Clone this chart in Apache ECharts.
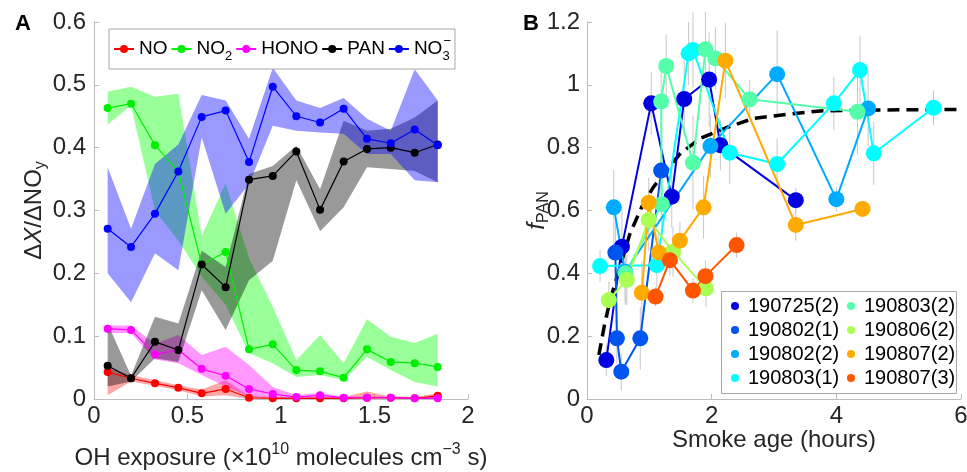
<!DOCTYPE html>
<html><head><meta charset="utf-8">
<script src="https://cdn.jsdelivr.net/npm/echarts/dist/echarts.min.js"></script>
<style>html,body{margin:0;padding:0;background:#fff}#c{width:967px;height:472px}</style>
</head><body><div id="c"></div>
<script>
// ---------- Panel A data ----------
const ohExposure = [0.073,0.198,0.326,0.451,0.576,0.704,0.829,0.956,1.082,1.209,1.335,1.460,1.587,1.715,1.838];
const noMean  = [0.043,0.033,0.025,0.018,0.009,0.016,0.002,0.001,0.001,0.001,0.001,0.002,0.002,0.001,0.005];
const noLow   = [0.006,0.028,0.021,0.014,0.004,0.006,0,0,0,0,0,0,0,0,0.001];
const noHigh  = [0.049,0.038,0.030,0.022,0.015,0.030,0.005,0.003,0.003,0.004,0.003,0.012,0.004,0.003,0.009];
const no2Mean = [0.463,0.470,0.404,0.362,0.214,0.234,0.079,0.087,0.046,0.044,0.034,0.079,0.059,0.057,0.051];
const no2Low  = [0.437,0.467,0.300,0.252,0.195,0.150,0.073,0.057,0.035,0.038,0.030,0.067,0.046,0.027,0.020];
const no2High = [0.489,0.497,0.481,0.486,0.260,0.343,0.224,0.147,0.062,0.102,0.057,0.127,0.099,0.089,0.104];
const honoMean= [0.112,0.110,0.071,0.078,0.048,0.037,0.016,0.008,0.003,0.006,0.002,0.002,0.002,0.001,0.001];
const honoLow = [0.105,0.105,0.063,0.057,0.038,0.020,0.004,0.002,0.001,0.001,0.001,0.001,0.001,0,0];
const honoHigh= [0.117,0.117,0.088,0.102,0.070,0.083,0.054,0.019,0.006,0.010,0.004,0.004,0.004,0.003,0.003];
const panMean = [0.053,0.033,0.091,0.078,0.214,0.178,0.349,0.355,0.394,0.301,0.378,0.398,0.400,0.392,0.405];
const panLow  = [0.020,0.028,0.065,0.059,0.173,0.110,0.189,0.220,0.348,0.267,0.305,0.369,0.366,0.363,0.345];
const panHigh = [0.120,0.037,0.131,0.120,0.236,0.210,0.358,0.371,0.403,0.334,0.443,0.427,0.430,0.448,0.475];
const no3Mean = [0.271,0.242,0.295,0.362,0.449,0.459,0.377,0.497,0.450,0.440,0.462,0.414,0.407,0.429,0.404];
const no3Low  = [0.200,0.154,0.232,0.205,0.416,0.295,0.342,0.435,0.427,0.424,0.422,0.390,0.390,0.348,0.345];
const no3High = [0.369,0.271,0.374,0.405,0.484,0.475,0.414,0.527,0.475,0.463,0.479,0.446,0.427,0.525,0.475];
const speciesNames = ['NO','NO2','HONO','PAN','NO3'];

// ---------- Panel B data ----------
const flightNames = ['190725(2)','190802(1)','190802(2)','190803(1)','190803(2)','190806(2)','190807(2)','190807(3)'];
const f1Age = [0.31,0.56,1.03,1.36,1.56,1.96,2.14,3.35];
const f1Pan = [0.124,0.485,0.941,0.644,0.955,1.017,0.808,0.633];
const f1Err = [0.05,0.12,0.10,0.10,0.12,0.15,0.08,0.04];
const f2Age = [0.455,0.48,0.55,0.855,1.19];
const f2Pan = [0.466,0.193,0.087,0.193,0.727];
const f2Err = [0.10,0.08,0.06,0.10,0.10];
const f3Age = [0.43,0.61,1.98,3.05,4.0,4.51];
const f3Pan = [0.61,0.405,0.805,1.034,0.636,0.925];
const f3Err = [0.12,0.10,0.10,0.14,0.04,0.12];
const f4Age = [0.21,1.12,1.63,1.70,2.29,3.05,3.96,4.38,4.6,5.56];
const f4Pan = [0.423,0.426,1.10,1.111,0.784,0.748,0.941,1.047,0.782,0.927];
const f4Err = [0.05,0.10,0.10,0.12,0.10,0.08,0.085,0.11,0.10,0.055];
const f5Age = [0.62,1.2,1.19,1.27,1.70,1.90,2.06,2.61,4.34];
const f5Pan = [0.40,0.62,0.947,1.06,0.752,1.113,1.084,0.954,0.914];
const f5Err = [0.10,0.10,0.12,0.10,0.15,0.12,0.10,0.06,0.135];
const f6Age = [0.35,0.64,0.99,1.38,1.91];
const f6Pan = [0.315,0.379,0.57,0.469,0.352];
const f6Err = [0.06,0.08,0.10,0.08,0.06];
const f7Age = [0.88,0.99,1.15,1.49,1.87,2.22,3.35,4.42];
const f7Pan = [0.338,0.625,0.466,0.504,0.61,1.077,0.554,0.605];
const f7Err = [0.10,0.08,0.06,0.06,0.10,0.12,0.05,0.02];
const f8Age = [1.1,1.33,1.70,1.90,2.40];
const f8Pan = [0.326,0.442,0.345,0.391,0.49];
const f8Err = [0.03,0.05,0.04,0.05,0.04];
const fitAge = [0.19,0.28,0.37,0.53,0.69,0.88,1.05,1.23,1.5,1.82,2.25,2.67,3.26,3.74,4.7,5.66,6.0];
const fitPan = [0.14,0.235,0.315,0.421,0.527,0.612,0.670,0.718,0.782,0.83,0.865,0.893,0.907,0.917,0.92,0.921,0.922];

// ---------- styling ----------
const FONT = '"Liberation Sans", Arial, Helvetica, sans-serif';
const AX = '#bdbdbd', TXT = '#262626';
const speciesColors = ['#ff0000','#00ee00','#ff00ff','#000000','#0000ff'];
const bandColors = ['rgba(255,0,0,0.35)','rgba(0,255,0,0.4)','rgba(255,0,255,0.4)','rgba(0,0,0,0.4)','rgba(0,0,255,0.4)'];
const flightColors = ['#0000e0','#0055f0','#00aaff','#00ffff','#55ffaa','#aaff55','#ffaa00','#ff5500'];

const bandSets = [[noLow,noHigh],[no2Low,no2High],[honoLow,honoHigh],[panLow,panHigh],[no3Low,no3High]];
const meanSets = [noMean,no2Mean,honoMean,panMean,no3Mean];
const flights = [[f1Age,f1Pan,f1Err],[f2Age,f2Pan,f2Err],[f3Age,f3Pan,f3Err],[f4Age,f4Pan,f4Err],
                 [f5Age,f5Pan,f5Err],[f6Age,f6Pan,f6Err],[f7Age,f7Pan,f7Err],[f8Age,f8Pan,f8Err]];

const series = [];
bandSets.forEach(([lo,hi],k) => {
  series.push({
    type:'custom', xAxisIndex:0, yAxisIndex:0, silent:true, z:1,
    data: ohExposure.map((x,i)=>[x, lo[i], hi[i]]),
    encode:{x:0, y:[1,2]},
    renderItem: function(params, api){
      if (params.dataIndex !== 0) return null;
      const pts = [];
      for (let i=0;i<ohExposure.length;i++) pts.push(api.coord([ohExposure[i], hi[i]]));
      for (let i=ohExposure.length-1;i>=0;i--) pts.push(api.coord([ohExposure[i], lo[i]]));
      return {type:'polygon', shape:{points:pts}, style:{fill:bandColors[k], stroke:null}};
    }
  });
});
meanSets.forEach((m,k) => {
  series.push({
    type:'line', name:speciesNames[k], xAxisIndex:0, yAxisIndex:0, z:3,
    data: ohExposure.map((x,i)=>[x,m[i]]),
    symbol:'circle', symbolSize:8, color:speciesColors[k],
    lineStyle:{width:1.2, color:speciesColors[k]}, itemStyle:{color:speciesColors[k]}
  });
});
// error bars
const errRows = [];
flights.forEach(([a,p,e]) => a.forEach((x,i)=>errRows.push([x, p[i]-e[i], p[i]+e[i]])));
series.push({
  type:'custom', xAxisIndex:1, yAxisIndex:1, silent:true, z:1,
  data: errRows, encode:{x:0, y:[1,2]},
  renderItem: function(params, api){
    const a = api.coord([api.value(0), api.value(1)]);
    const b = api.coord([api.value(0), api.value(2)]);
    return {type:'line', shape:{x1:a[0],y1:a[1],x2:b[0],y2:b[1]}, style:{stroke:'#c8c8c8', lineWidth:1}};
  }
});
series.push({
  type:'line', name:'fit', xAxisIndex:1, yAxisIndex:1, z:2, smooth:false,
  data: fitAge.map((x,i)=>[x,fitPan[i]]), symbol:'none',
  lineStyle:{color:'#000', width:3.5, type:[12,7]}
});
flights.forEach(([a,p],k) => {
  series.push({
    type:'line', name:flightNames[k], xAxisIndex:1, yAxisIndex:1, z:3,
    data: a.map((x,i)=>[x,p[i]]), symbol:'circle', symbolSize:16,
    color:flightColors[k], lineStyle:{width:2, color:flightColors[k]}, itemStyle:{color:flightColors[k]}
  });
});

const axisCommon = {
  axisLine:{show:true, lineStyle:{color:AX, width:1}},
  axisTick:{show:true, inside:true, length:5, lineStyle:{color:AX}},
  splitLine:{show:false},
  axisLabel:{fontSize:24, color:TXT, fontFamily:FONT},
  nameTextStyle:{color:TXT, fontFamily:FONT},
  nameMoveOverlap:false
};
function ax(extra){ const o = JSON.parse(JSON.stringify(axisCommon)); return Object.assign(o, extra, {
  axisLabel:Object.assign({}, axisCommon.axisLabel, extra.axisLabel||{}),
  nameTextStyle:Object.assign({}, axisCommon.nameTextStyle, extra.nameTextStyle||{})}); }

const legendLabels = {
  NO:'{n|NO}', NO2:'{n|NO}{b|2}', HONO:'{n|HONO}', PAN:'{n|PAN}', NO3:'{n|NO}{b0|3}{t|−}'
};

const option = {
  animation:false,
  backgroundColor:'#fff',
  textStyle:{fontFamily:FONT},
  title:[
    {text:'A', left:10, top:8, textStyle:{fontSize:22, fontWeight:'bold', color:'#000', fontFamily:FONT}},
    {text:'B', left:518, top:8, textStyle:{fontSize:22, fontWeight:'bold', color:'#000', fontFamily:FONT}}
  ],
  grid:[
    {left:94, top:22, width:374, height:377, outerBoundsMode:'none', containLabel:false},
    {left:587, top:22, width:374, height:377, outerBoundsMode:'none', containLabel:false}
  ],
  xAxis:[
    ax({gridIndex:0, type:'value', min:0, max:2, interval:0.5, axisLabel:{margin:5},
        name:'{n|OH exposure (×10}{p|10}{n| molecules cm}{p|−3}{n| s)}', nameLocation:'middle', nameGap:43,
        nameTextStyle:{fontSize:24, rich:{
          n:{fontSize:24, lineHeight:32, color:TXT, fontFamily:FONT},
          p:{fontSize:16, lineHeight:12, verticalAlign:'top', color:TXT, fontFamily:FONT}}}}),
    ax({gridIndex:1, type:'value', min:0, max:6, interval:2, axisLabel:{margin:5},
        name:'Smoke age (hours)', nameLocation:'middle', nameGap:27, nameTextStyle:{fontSize:24, lineHeight:28}})
  ],
  yAxis:[
    ax({gridIndex:0, type:'value', min:0, max:0.6, interval:0.1, axisLabel:{margin:8},
        name:'{d|Δ}{i|X}{d|/ΔNO}{s|y}', nameLocation:'middle', nameRotate:90, nameGap:45,
        nameTextStyle:{fontSize:24, rich:{
          d:{fontSize:24, lineHeight:30, color:TXT, fontFamily:FONT},
          i:{fontSize:24, lineHeight:30, fontStyle:'italic', color:TXT, fontFamily:FONT},
          s:{fontSize:16, lineHeight:14, verticalAlign:'bottom', color:TXT, fontFamily:FONT}}}}),
    ax({gridIndex:1, type:'value', min:0, max:1.2, interval:0.2, axisLabel:{margin:7},
        name:'{i|f}{s|PAN}', nameLocation:'middle', nameRotate:90, nameGap:35,
        nameTextStyle:{fontSize:24, rich:{
          i:{fontSize:24, lineHeight:30, fontStyle:'italic', color:TXT, fontFamily:FONT},
          s:{fontSize:16, lineHeight:14, verticalAlign:'bottom', color:TXT, fontFamily:FONT}}}})
  ],
  legend:[
    {left:109, top:29, orient:'horizontal', itemWidth:20, itemHeight:10, itemGap:3,
     padding:[6,4,6,4], borderColor:'#a8a8a8', borderWidth:1, backgroundColor:'#fff',
     selectedMode:false, data:speciesNames, formatter:n=>legendLabels[n],
     textStyle:{fontSize:19, color:'#000', fontFamily:FONT, rich:{
       n:{fontSize:19, lineHeight:28, color:'#000', fontFamily:FONT},
       b:{fontSize:13, lineHeight:13, verticalAlign:'bottom', color:'#000', fontFamily:FONT},
       b0:{fontSize:13, lineHeight:13, width:1, verticalAlign:'bottom', color:'#000', fontFamily:FONT},
       t:{fontSize:13, lineHeight:8, verticalAlign:'top', color:'#000', fontFamily:FONT}}}},
    {left:731, top:296, orient:'vertical', height:94, itemWidth:8, itemHeight:8, itemGap:4, icon:'circle',
     padding:0, selectedMode:false, data:flightNames, z:6,
     textStyle:{fontSize:20, lineHeight:20, width:95, padding:[0,0,0,4], color:'#000', fontFamily:FONT}}
  ],
  graphic:[
    {type:'rect', left:721, top:291, z:5, shape:{width:235, height:102},
     style:{fill:'#fff', stroke:'#a8a8a8', lineWidth:1}}
  ],
  series: series
};
const chart = echarts.init(document.getElementById('c'), null, {renderer:'canvas'});
chart.setOption(option);
</script></body></html>
